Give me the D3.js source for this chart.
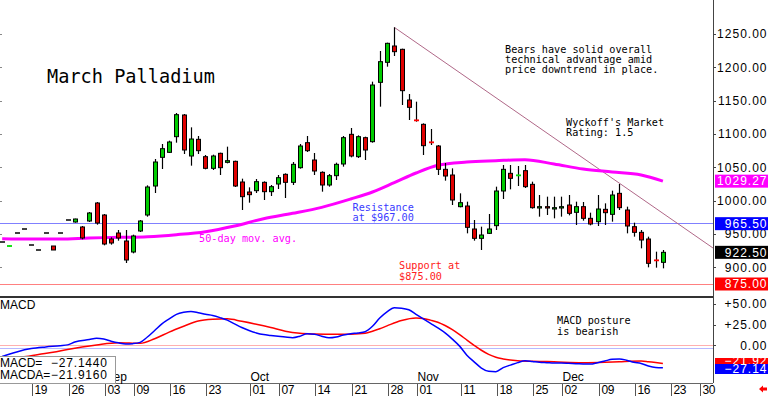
<!DOCTYPE html>
<html><head><meta charset="utf-8">
<script src="https://cdn.jsdelivr.net/npm/d3@7"></script>
<style>body{margin:0;background:#fff}svg{display:block}</style>
</head><body><svg id="c" width="768" height="396"></svg>
<script>
// ---------- DATA ----------
// trading-day index: 0 = 2024-08-19 ; first candle -4 = 2024-08-13 ; last 87 = 2024-12-20
const candleIndex = d3.range(-4, 88);
const openP  = [938,931.5,951.5,957.5,933.5,926,951.5,932,951.5,971,968,960.5,969.5,996.5,978.5,942.5,951.5,939.5,923,954.5,
  978.5,1022,1065,1072.5,1096,1128.5,1067,1092,1066,1048.5,1071,1057.5,1059,1028,1013,1015,1027.5,1013.5,1025,1039.5,
  1027.5,1049.5,1087,1061,1042.5,1023.5,1037.5,1055,1099.5,1066,1094.5,1088.5,1177.5,1207.5,1232,1227,1151,1121,1114.5,1088,
  1082,1047,1038.5,991,992,957.5,943.5,951,962.5,1014.5,1041,1037.5,1045,1024.5,989,991,987.5,989,993.5,982.5,
  991,973.5,968.5,987,979.5,1011,986,961,952.5,942.5,911,907.5];
const highP  = [938,932.5,951.5,957.5,933.5,926,951.5,932,951.5,971,973,962,983,998,980,945,956,956,949,971,
  1023,1062.5,1085,1090,1131.5,1130,1110,1097,1068.5,1069,1072,1081,1060,1033,1020,1032.5,1029,1023.5,1038.5,1041,
  1058,1085,1097,1071.5,1044,1040,1057,1097,1109,1098,1096,1178.5,1224.5,1237,1260,1228,1160,1148.5,1116,1107.5,
  1083.5,1056.5,1048.5,1011,998.5,971,961,980,1021,1053.5,1053.5,1052,1053.5,1028.5,1008.5,1006,1006,1006,1008.5,998.5,
  998,982,1008.5,996,1015,1025,991,967,956,946,923.5,926];
const lowP   = [938,931.5,951.5,957.5,933.5,926,951.5,926,951.5,971,967,942,968,964,933,934,940,906.5,921,953,
  976,1011.5,1047.5,1071.5,1087,1070,1052.5,1070,1047,1046,1038.5,1056,1020.5,986,997,1011.5,1001,1007,1017.5,1004,
  1023.5,1048,1073,1038.5,1013.5,1021,1031,1051,1065,1064,1061,1087,1141,1201,1217,1143.5,1121,1118.5,1068.5,1083.5,
  1038.5,1030,993.5,990,951,940,926,950,956,1002.5,1017,1022,1019,988,976,978.5,973.5,976,978,963.5,
  970,963,962,963.5,968.5,986,951,946,928.5,900,899.5,898.5];
const closeP = [938,932.5,951.5,957.5,933.5,926,951.5,926,951.5,971,972.5,944,981.5,966.5,935,936.5,944,911,947,969.5,
  1020.5,1058,1078,1088,1129,1076,1092.5,1075,1048.5,1067,1049.5,1060,1022,1006,1009,1028.5,1013.5,1021,1034.5,1027.5,
  1054.5,1082,1075,1044.5,1023.5,1037.5,1054.5,1094.5,1067,1096,1076,1173.5,1208.5,1236,1223.5,1165,1140,1120,1082.5,1087,
  1047,1037,1001,997,960,943.5,948.5,957.5,1014.5,1047,1033.5,1038.5,1021,989.5,991,989,989.5,991,981,991,
  973.5,965,987.5,982,1008.5,989.5,962,952.5,941,906,910,922.5];

// 50-day moving average
const maIndex = [-4,0,4,8,12,16,20,24,28,32,36,40,44,47,50,53,56,60,64,68,72,76,80,84,87];
const maValue = [943,942.5,942.5,944,945,946,949,953.5,962,973,981,990,1002.5,1013,1027,1041.5,1053,1058,1060,1061.5,1055,1047.5,1043,1038.5,1029.27];

// MACD (blue) and MACD average (red)
const macdIndex = [-4,-2,0,2,4,5,6,8,9,10,11,12,13,14,15,16,17,18,19,20,21,22,23,24,25,26,27,28,29,30,31,32,33,34,35,36,37,38,39,40,41,42,43,44,45,46,47,48,49,50,51,52,53,54,55,56,57,58,59,60,61,62,63,64,65,66,67,68,69,70,71,72,73,74,75,76,77,78,79,80,81,82,83,84,85,86,87];
const macdValue = [-13.5,-8,-4,-2,-0.5,0.5,4,7,8.5,7.5,5,3,1.6,2,3.5,10,18,26,32,37.5,40,41,39.5,37.5,36,33.5,30.5,26,21.5,18,15,13,12,11,10,9.2,11,14,13.5,11,9,10,12.5,14,15,16.5,23,33,40.5,45.5,45,43,37.5,32,26.5,21,15,7.5,-1,-12,-20,-27.5,-31.5,-32,-27,-24,-21,-18.7,-19.5,-20.5,-21,-21.5,-21.5,-21.8,-22.2,-22.5,-22.7,-21,-19,-17,-16.5,-18,-20.5,-22,-25,-26.8,-27.144];
const signalIndex = [-1,1,3,5,7,9,12,15,17,19,21,23,25,27,29,31,33,35,37,39,42,44,46,47,48,49,51,53,54,55,56,57,58,59,60,61,62,63,64,65,67,70,72,76,79,81,84,85,86,87];
const signalValue = [-14,-11,-8.5,-5,-2,0.5,3.2,2.5,8,16,23,29.5,31.5,32,29,25.5,21.5,17,14.5,13.7,13.3,13.5,14.6,17,20,23.5,30,33,32.5,30.5,28,24,19,13,6.4,0,-6,-11,-14.5,-16.5,-18.7,-19.5,-20,-21,-20.5,-19.8,-19,-19.8,-20.8,-21.916];

// Axis / annotation values
const priceTicks = [850,900,950,1000,1050,1100,1150,1200,1250];
const priceLabels = [900,950,1000,1050,1100,1150,1200,1250];
const macdTicks = [50,25,0];
const tickDays   = [0,5,10,14,19,24,30,34,39,44,49,53,59,64,69,73,78,83,88,92];
const tickLabels = ["19","26","03","09","16","23","01","07","14","21","28","01","11","18","25","02","09","16","23","30"];
const monthDays   = [10,30,53,73];
const monthLabels = ["Sep","Oct","Nov","Dec"];
const resistance = 967, support = 875;
const trendIdx = [50, 93.9], trendVal = [1260, 929];
const tags = [{v:1029.27,t:"1029.27",c:"#ff00ff"},{v:965.5,t:"965.50",c:"#0000ff"},{v:922.5,t:"922.50",c:"#000000"},{v:875,t:"875.00",c:"#ff0000"}];

// ---------- CHART ----------
const svg = d3.select("#c");
const plotR = 713, mainBottom = 297;
const x = d3.scaleLinear().domain([-4.3, 93.9]).range([0, plotR]);
const y = d3.scaleLinear().domain([850, 1250]).range([300.67, 34]);
const ym = d3.scaleLinear().domain([0, 50]).range([345.3, 304]);
const sans = "'Liberation Sans', Arial, sans-serif";
const mono = "'DejaVu Sans Mono', monospace";

const defs = svg.append("defs");
defs.append("clipPath").attr("id","cm").append("rect").attr("x",0).attr("y",0).attr("width",plotR).attr("height",mainBottom);
defs.append("clipPath").attr("id","cmac").append("rect").attr("x",0).attr("y",mainBottom+1).attr("width",plotR).attr("height",383-mainBottom-1);
defs.append("clipPath").attr("id","cax").append("rect").attr("x",plotR).attr("y",0).attr("width",60).attr("height",mainBottom);

const main = svg.append("g").attr("clip-path","url(#cm)");

// left edge small ticks
main.selectAll("line.lt").data(priceTicks).join("line")
  .attr("x1",0).attr("x2",2).attr("y1",d=>Math.round(y(d))+0.5).attr("y2",d=>Math.round(y(d))+0.5)
  .attr("stroke","#888");

// support / resistance lines
main.append("line").attr("x1",0).attr("x2",plotR).attr("y1",Math.round(y(resistance))+0.5).attr("y2",Math.round(y(resistance))+0.5)
  .attr("stroke","#8080ff").attr("stroke-width",1);
main.append("line").attr("x1",0).attr("x2",plotR).attr("y1",Math.round(y(support))+0.5).attr("y2",Math.round(y(support))+0.5)
  .attr("stroke","#ff8080").attr("stroke-width",1);

// trend line
main.append("line").attr("x1",x(trendIdx[0])).attr("y1",y(trendVal[0])).attr("x2",x(trendIdx[1])).attr("y2",y(trendVal[1]))
  .attr("stroke","#b06888").attr("stroke-width",1);

// moving average
main.append("path").datum(maIndex.map((d,k)=>[d,maValue[k]]))
  .attr("d", d3.line().x(d=>x(d[0])).y(d=>y(d[1])).curve(d3.curveMonotoneX))
  .attr("fill","none").attr("stroke","#ff00ff").attr("stroke-width",3);

// candles
const candles = candleIndex.map((i,k)=>({i, o:openP[k], h:highP[k], l:lowP[k], c:closeP[k]}));
const cg = main.append("g");
const cx = d => Math.round(x(d.i));
cg.selectAll("line.w").data(candles.filter(d=>d.h!==d.l)).join("line")
  .attr("x1",d=>cx(d)+0.5).attr("x2",d=>cx(d)+0.5).attr("y1",d=>y(d.h)).attr("y2",d=>y(d.l))
  .attr("stroke","#000").attr("stroke-width",1.2);
const flat = candles.filter(d=>d.o===d.c);
cg.selectAll("line.f").data(flat).join("line")
  .attr("x1",d=>cx(d)-2).attr("x2",d=>cx(d)+3).attr("y1",d=>y(d.o)).attr("y2",d=>y(d.o))
  .attr("stroke","#000").attr("stroke-width",1.5);
const tiny = candles.filter(d=>d.o!==d.c && Math.abs(y(d.o)-y(d.c))<1.0);
cg.selectAll("line.t").data(tiny).join("line")
  .attr("x1",d=>cx(d)-2).attr("x2",d=>cx(d)+3).attr("y1",d=>(y(d.o)+y(d.c))/2).attr("y2",d=>(y(d.o)+y(d.c))/2)
  .attr("stroke",d=>d.c>d.o?"#00e000":"#ff0000").attr("stroke-width",1.8);
const bodies = candles.filter(d=>Math.abs(y(d.o)-y(d.c))>=1.0);
cg.selectAll("rect.b").data(bodies).join("rect")
  .attr("x",d=>cx(d)-1.5).attr("width",4)
  .attr("y",d=>Math.min(y(d.o),y(d.c))).attr("height",d=>Math.abs(y(d.o)-y(d.c)))
  .attr("fill",d=>d.c>d.o?"#00cc00":"#e00000").attr("stroke","#000").attr("stroke-width",1);

// annotations
function multi(lines, x0, y0, lh, color, size, font){
  const t = svg.append("text").attr("x",x0).attr("y",y0).attr("fill",color)
    .attr("font-family",font||mono).attr("font-size",size);
  lines.forEach((s,k)=>t.append("tspan").attr("x",x0).attr("y",y0+k*lh).text(s));
}
multi(["March Palladium"], 47, 83, 0, "#000", "18.6px");
multi(["Bears have solid overall","technical advantage amid","price downtrend in place."], 505, 53, 10.2, "#000", "10.2px");
multi(["Wyckoff's Market","Rating: 1.5"], 566, 126, 10.2, "#000", "10.2px");
multi(["Resistance","at $967.00"], 352.5, 211, 10.2, "#3b3bff", "10.2px");
multi(["50-day mov. avg."], 199, 242.3, 0, "#ff00ff", "10.2px");
multi(["Support at","$875.00"], 399, 269.3, 10.2, "#ff2020", "10.2px");
multi(["MACD posture","is bearish"], 557, 324.3, 10.2, "#000", "10.2px");

// main panel bottom border
svg.append("line").attr("x1",0).attr("x2",plotR).attr("y1",mainBottom).attr("y2",mainBottom).attr("stroke","#333").attr("stroke-width",2);

// right axis
svg.append("line").attr("x1",plotR+0.5).attr("x2",plotR+0.5).attr("y1",0).attr("y2",383).attr("stroke","#444");
const ax = svg.append("g").attr("clip-path","url(#cax)");
ax.selectAll("line").data(priceTicks).join("line")
  .attr("x1",plotR).attr("x2",plotR+3).attr("y1",d=>Math.round(y(d))+0.5).attr("y2",d=>Math.round(y(d))+0.5).attr("stroke","#444");
ax.selectAll("text").data(priceLabels).join("text")
  .attr("x",767.5).attr("y",d=>y(d)).attr("dy","0.36em").attr("text-anchor","end")
  .attr("font-family",sans).attr("font-size","12px").attr("letter-spacing","1px").attr("fill","#000")
  .text(d=>d3.format(".2f")(d));
const tg = svg.append("g").selectAll("g").data(tags).join("g");
tg.append("rect").attr("x",715).attr("width",53).attr("y",d=>y(d.v)-6.5).attr("height",13).attr("fill",d=>d.c);
tg.append("text").attr("x",767.5).attr("y",d=>y(d.v)).attr("dy","0.36em").attr("text-anchor","end")
  .attr("font-family",sans).attr("font-size","12px").attr("letter-spacing","1px").attr("fill","#fff").text(d=>d.t);

// ---------- MACD panel ----------
const mg = svg.append("g").attr("clip-path","url(#cmac)");
mg.append("line").attr("x1",0).attr("x2",plotR).attr("y1",Math.round(ym(0))+0.5).attr("y2",Math.round(ym(0))+0.5).attr("stroke","#ffb0b0");
mg.append("line").attr("x1",0).attr("x2",plotR).attr("y1",Math.round(ym(-3.5))+0.5).attr("y2",Math.round(ym(-3.5))+0.5).attr("stroke","#b8b8ff");
const ml = d3.line().x(d=>x(d[0])).y(d=>ym(d[1])).curve(d3.curveMonotoneX);
mg.append("path").datum(signalIndex.map((d,k)=>[d,signalValue[k]])).attr("d",ml).attr("fill","none").attr("stroke","#ff0000").attr("stroke-width",1.5);
mg.append("path").datum(macdIndex.map((d,k)=>[d,macdValue[k]])).attr("d",ml).attr("fill","none").attr("stroke","#0000ff").attr("stroke-width",1.5);
svg.append("text").attr("x",0).attr("y",309).attr("font-family",sans).attr("font-size","12px").text("MACD");

svg.selectAll("line.mt").data(macdTicks).join("line")
  .attr("x1",plotR).attr("x2",plotR+3).attr("y1",d=>Math.round(ym(d))+0.5).attr("y2",d=>Math.round(ym(d))+0.5).attr("stroke","#444");
svg.selectAll("text.ml").data(macdTicks).join("text")
  .attr("x",767.5).attr("y",d=>ym(d)).attr("dy","0.36em").attr("text-anchor","end")
  .attr("font-family",sans).attr("font-size","12px").attr("letter-spacing","1px")
  .text(d=>(d>0?"+":"")+d3.format(".2f")(d));
// MACD value tags
const lastSig = signalValue[signalValue.length-1], lastMacd = macdValue[macdValue.length-1];
svg.append("rect").attr("x",715).attr("width",53).attr("y",358).attr("height",7).attr("fill","#ff0000");
svg.append("text").attr("x",767.5).attr("y",365).attr("text-anchor","end").attr("font-family",sans).attr("font-size","12px")
  .attr("letter-spacing","1px").attr("fill","#fff").text(d3.format(".2f")(lastSig));
svg.append("rect").attr("x",715).attr("width",53).attr("y",364).attr("height",10).attr("fill","#0000ff");
svg.append("text").attr("x",767.5).attr("y",373).attr("text-anchor","end").attr("font-family",sans).attr("font-size","12px")
  .attr("letter-spacing","1px").attr("fill","#fff").text(d3.format(".2f")(lastMacd));

// ---------- date axis ----------
svg.append("line").attr("x1",0).attr("x2",plotR).attr("y1",383.5).attr("y2",383.5).attr("stroke","#666");
svg.selectAll("text.mo").data(monthDays).join("text")
  .attr("x",d=>Math.round(x(d))+1.5).attr("y",380.5).attr("font-family",sans).attr("font-size","12px")
  .text((d,k)=>monthLabels[k]);
svg.selectAll("line.dt").data(tickDays).join("line")
  .attr("x1",d=>Math.round(x(d))+1.5).attr("x2",d=>Math.round(x(d))+1.5).attr("y1",384).attr("y2",396).attr("stroke","#555");
svg.selectAll("text.dl").data(tickDays).join("text")
  .attr("x",d=>Math.round(x(d))+3.5).attr("y",394).attr("font-family",sans).attr("font-size","12px").attr("letter-spacing","-0.3px")
  .text((d,k)=>tickLabels[k]);
// red arrow
svg.append("path").attr("d","M759,389 L763,385.5 L763,387.5 L767,387.5 L767,390.5 L763,390.5 L763,392.5 Z").attr("fill","#ff0000");

// legend box
const lb = svg.append("g");
lb.append("rect").attr("x",-1).attr("y",356.5).attr("width",116.5).attr("height",27).attr("fill","#fff").attr("stroke","#999");
lb.append("text").attr("x",0).attr("y",367).attr("font-family",sans).attr("font-size","12px").text("MACD=");
lb.append("text").attr("x",51).attr("y",367).attr("font-family",sans).attr("font-size","12px").attr("letter-spacing","0.8px").text(d3.format(".4f")(lastMacd));
lb.append("text").attr("x",0).attr("y",379).attr("font-family",sans).attr("font-size","12px").text("MACDA=");
lb.append("text").attr("x",51).attr("y",379).attr("font-family",sans).attr("font-size","12px").attr("letter-spacing","0.8px").text(d3.format(".4f")(lastSig));
</script></body></html>
